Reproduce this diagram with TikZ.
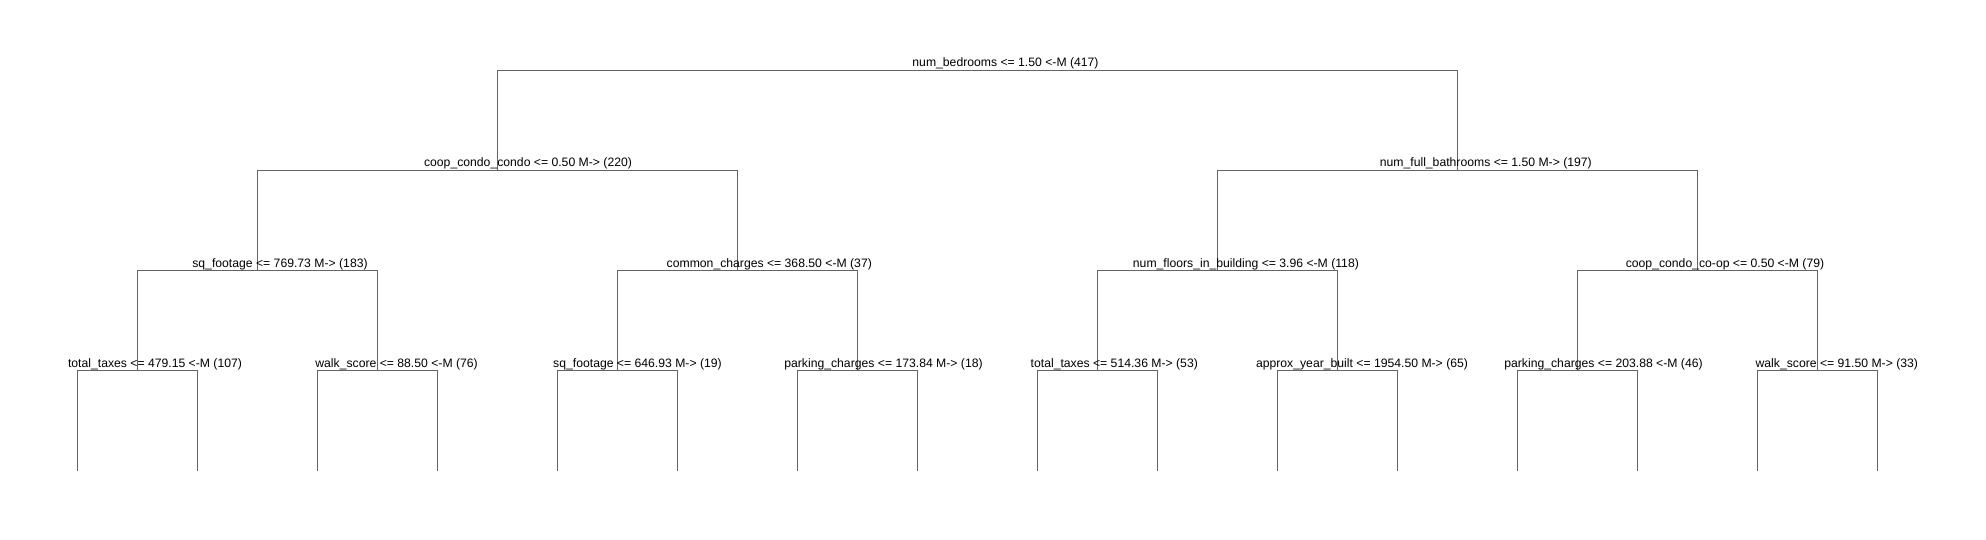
\documentclass[tikz,border=0pt]{standalone}
\usepackage{fontspec}
\setmainfont{Liberation Sans}
\definecolor{edgec}{RGB}{100,100,100}
\begin{document}
\begin{tikzpicture}[x=1pt,y=-1pt,
  edge/.style={draw=edgec, line width=0.9pt},
  lab/.style={anchor=base, inner sep=0pt, font=\fontsize{12.2}{14}\selectfont}]
\useasboundingbox[fill=white] (0,0) rectangle (1986,540);
% split points
\coordinate (n0) at (977.6,70.3);
\coordinate (n1) at (497.6,170.3);
\coordinate (n2) at (1457.6,170.3);
\coordinate (n3) at (257.6,270.3);
\coordinate (n4) at (737.6,270.3);
\coordinate (n5) at (1217.6,270.3);
\coordinate (n6) at (1697.6,270.3);
\coordinate (n7) at (137.6,370.3);
\coordinate (n8) at (377.6,370.3);
\coordinate (n9) at (617.6,370.3);
\coordinate (n10) at (857.6,370.3);
\coordinate (n11) at (1097.6,370.3);
\coordinate (n12) at (1337.6,370.3);
\coordinate (n13) at (1577.6,370.3);
\coordinate (n14) at (1817.6,370.3);
\foreach \i in {0,...,15} {\coordinate (l\i) at ({77.6+120*\i},470.7);}
% connectors
\foreach \p/\a/\b in {n0/n1/n2, n1/n3/n4, n2/n5/n6,
  n3/n7/n8, n4/n9/n10, n5/n11/n12, n6/n13/n14,
  n7/l0/l1, n8/l2/l3, n9/l4/l5, n10/l6/l7,
  n11/l8/l9, n12/l10/l11, n13/l12/l13, n14/l14/l15}
  {\draw[edge] (\a) |- (\p) -| (\b);}
% labels
\node[lab] (t0) at (1005.5,67) {num\_bedrooms <= 1.50 <-M (417)};
\node[lab] (t1) at (528,167) {coop\_condo\_condo <= 0.50 M-> (220)};
\node[lab] (t2) at (1485.8,167) {num\_full\_bathrooms <= 1.50 M-> (197)};
\node[lab] (t3) at (280,267) {sq\_footage <= 769.73 M-> (183)};
\node[lab] (t4) at (769.3,267) {common\_charges <= 368.50 <-M (37)};
\node[lab] (t5) at (1245.9,267) {num\_floors\_in\_building <= 3.96 <-M (118)};
\node[lab] (t6) at (1725,267) {coop\_condo\_co-op <= 0.50 <-M (79)};
\node[lab] (t7) at (155,367) {total\_taxes <= 479.15 <-M (107)};
\node[lab] (t8) at (396.6,367) {walk\_score <= 88.50 <-M (76)};
\node[lab] (t9) at (637.5,367) {sq\_footage <= 646.93 M-> (19)};
\node[lab] (t10) at (883.5,367) {parking\_charges <= 173.84 M-> (18)};
\node[lab] (t11) at (1114.3,367) {total\_taxes <= 514.36 M-> (53)};
\node[lab] (t12) at (1362,367) {approx\_year\_built <= 1954.50 M-> (65)};
\node[lab] (t13) at (1603.5,367) {parking\_charges <= 203.88 <-M (46)};
\node[lab] (t14) at (1836.8,367) {walk\_score <= 91.50 M-> (33)};
\end{tikzpicture}
\end{document}
